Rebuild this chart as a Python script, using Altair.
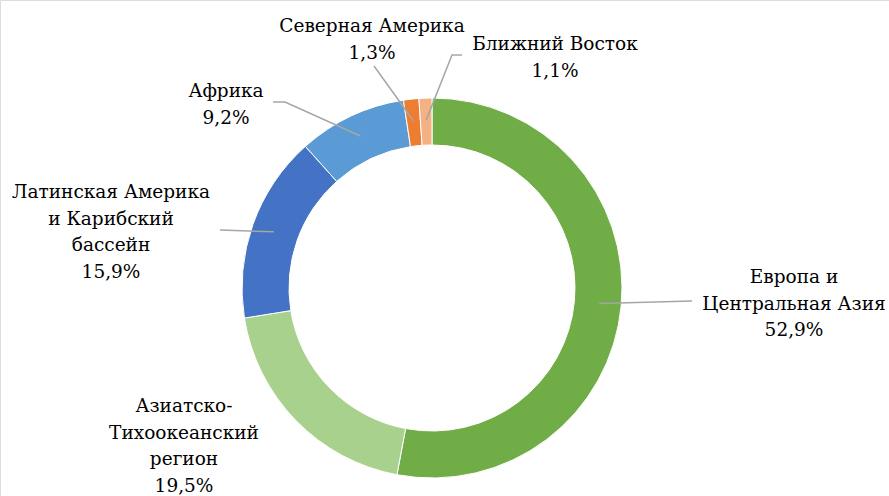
import math
import altair as alt
import pandas as pd

# ---- data ----
regions = [
    "Европа и Центральная Азия",
    "Азиатско-Тихоокеанский регион",
    "Латинская Америка и Карибский бассейн",
    "Африка",
    "Северная Америка",
    "Ближний Восток",
]
shares = [52.9, 19.5, 15.9, 9.2, 1.3, 1.1]
share_labels = ["52,9%", "19,5%", "15,9%", "9,2%", "1,3%", "1,1%"]
label_lines = [
    ["Европа и", "Центральная Азия"],
    ["Азиатско-", "Тихоокеанский", "регион"],
    ["Латинская Америка", "и Карибский", "бассейн"],
    ["Африка"],
    ["Северная Америка"],
    ["Ближний Восток"],
]
colors = ["#70AD47", "#A9D18E", "#4472C4", "#5B9BD5", "#ED7D31", "#F4B183"]

# ---- layout (pixels) ----
W, H = 889, 496
CX, CY = 432, 288
R_OUT, R_IN = 190, 143
R_LEADER = 168
label_pos = {  # x centre, first baseline
    regions[0]: (794, 283),
    regions[1]: (184, 412),
    regions[2]: (111, 198),
    regions[3]: (226, 97),
    regions[4]: (372, 32),
    regions[5]: (555, 50),
}
leader_start = {  # label-side points of leader lines
    regions[0]: [(692, 301)],
    regions[2]: [(220, 230)],
    regions[3]: [(273, 102), (285, 102)],
    regions[4]: [(374, 66)],
    regions[5]: [(462, 55), (452, 55)],
}

df = pd.DataFrame({"region": regions, "share": shares, "idx": range(len(regions))})

total = sum(shares)
cum = 0.0
mid_angle = {}
for r, v in zip(regions, shares):
    mid_angle[r] = (cum + v / 2) / total * 2 * math.pi
    cum += v

text_rows = []
for r, lines, sl in zip(regions, label_lines, share_labels):
    x, y = label_pos[r]
    text_rows.append({"region": r, "x": x, "y": y, "t": "\n".join(lines + [sl])})
tdf = pd.DataFrame(text_rows)

line_rows = []
for r, pts in leader_start.items():
    a = mid_angle[r]
    ex = CX + R_LEADER * math.sin(a)
    ey = CY - R_LEADER * math.cos(a)
    allpts = pts + [(ex, ey)]
    for i, (px, py) in enumerate(allpts):
        line_rows.append({"region": r, "x": px, "y": py, "o": i})
ldf = pd.DataFrame(line_rows)

xs = alt.Scale(domain=[0, W], range=[0, W])
ys = alt.Scale(domain=[0, H], range=[0, H])

arcs = alt.Chart(df).mark_arc(
    outerRadius=R_OUT, innerRadius=R_IN, stroke="white", strokeWidth=1
).encode(
    theta=alt.Theta("share:Q", stack=True),
    order=alt.Order("idx:Q"),
    color=alt.Color("region:N", scale=alt.Scale(domain=regions, range=colors), legend=None),
    x=alt.value(CX),
    y=alt.value(CY),
)

leaders = alt.Chart(ldf).mark_line(color="#A6A6A6", strokeWidth=1.5).encode(
    x=alt.X("x:Q", scale=xs, axis=None),
    y=alt.Y("y:Q", scale=ys, axis=None),
    detail="region:N",
    order="o:Q",
)

texts = alt.Chart(tdf).mark_text(
    font="DejaVu Serif", fontSize=18.5, color="#000000",
    align="center", baseline="alphabetic", lineBreak="\n", lineHeight=26.5,
).encode(
    x=alt.X("x:Q", scale=xs, axis=None),
    y=alt.Y("y:Q", scale=ys, axis=None),
    text="t:N",
)

chart = alt.layer(arcs, leaders, texts).properties(
    width=W, height=H, padding=0, autosize=alt.AutoSizeParams(type="none")
).configure_view(stroke=None).configure(background="white")

chart.save("out.html", embed_options={"renderer": "svg", "actions": False})
